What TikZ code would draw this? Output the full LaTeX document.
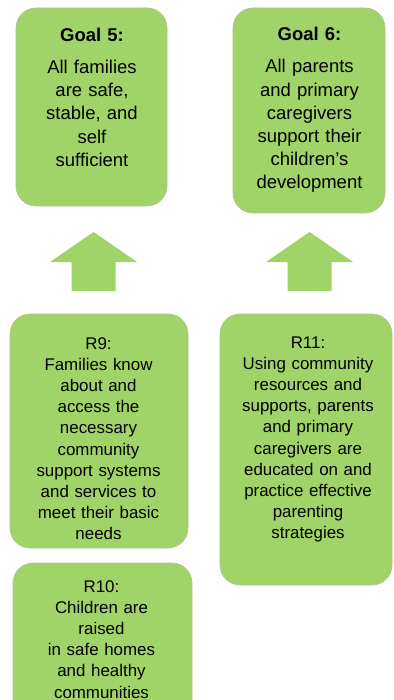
\documentclass[tikz,border=0pt]{standalone}
\usepackage{fontspec}
\setmainfont{Liberation Sans}
\usepackage{tikz}

\definecolor{boxgreen}{RGB}{160,212,104}
\definecolor{boxline}{RGB}{168,196,140}

\tikzset{
  goalbox/.style={draw=boxline, line width=0.6pt, fill=boxgreen, rounded corners=20pt, inner sep=0pt},
  goaltext/.style={anchor=base, text width=150pt, align=center, inner sep=0pt,
    font=\fontsize{18.5}{23.2}\selectfont},
  restext/.style={anchor=base, text width=172pt, align=center, inner sep=0pt,
    font=\fontsize{16.9}{21.2}\selectfont},
  uparrow/.style={fill=boxgreen}
}

\begin{document}
\begin{tikzpicture}[x=1pt,y=-1pt]
  \clip (0,0) rectangle (393,700);
  \fill[white] (0,0) rectangle (393,700);

  % goals
  \node[goalbox, minimum width=151pt, minimum height=198pt] (g5) at (91.5,107) {};
  \node[goalbox, minimum width=152pt, minimum height=205pt] (g6) at (309,110.5) {};

  \node[goaltext] (g5txt) at (92,41.5)
    {\textbf{Goal 5:}\\[8.8pt]All families\\are safe,\\stable, and\\self\\sufficient};
  \node[goaltext] (g6txt) at (309.5,41)
    {\textbf{Goal 6:}\\[8.8pt]All parents\\and primary\\caregivers\\support their\\children’s\\development};

  % block arrows
  \fill[uparrow] (93.5,232) -- (137,262) -- (115.5,262) -- (115.5,291)
    -- (71.5,291) -- (71.5,262) -- (50,262) -- cycle;
  \fill[uparrow] (309.5,232) -- (353,262) -- (331.5,262) -- (331.5,291)
    -- (287.5,291) -- (287.5,262) -- (266,262) -- cycle;

  % results
  \node[goalbox, minimum width=178pt, minimum height=234pt] (r9) at (99,431) {};
  \node[goalbox, minimum width=172pt, minimum height=271pt] (r11) at (306,449.5) {};
  \node[goalbox, minimum width=179pt, minimum height=177pt] (r10) at (102.5,651.5) {};

  \node[restext] (r9txt) at (98.5,349)
    {R9:\\Families know\\about and\\access the\\necessary\\community\\support systems\\and services to\\meet their basic\\needs};
  \node[restext] (r11txt) at (308,348)
    {R11:\\Using community\\resources and\\supports, parents\\and primary\\caregivers are\\educated on and\\practice effective\\parenting\\strategies};
  \node[restext] (r10txt) at (101.5,592)
    {R10:\\Children are\\raised\\in safe homes\\and healthy\\communities};
\end{tikzpicture}
\end{document}
